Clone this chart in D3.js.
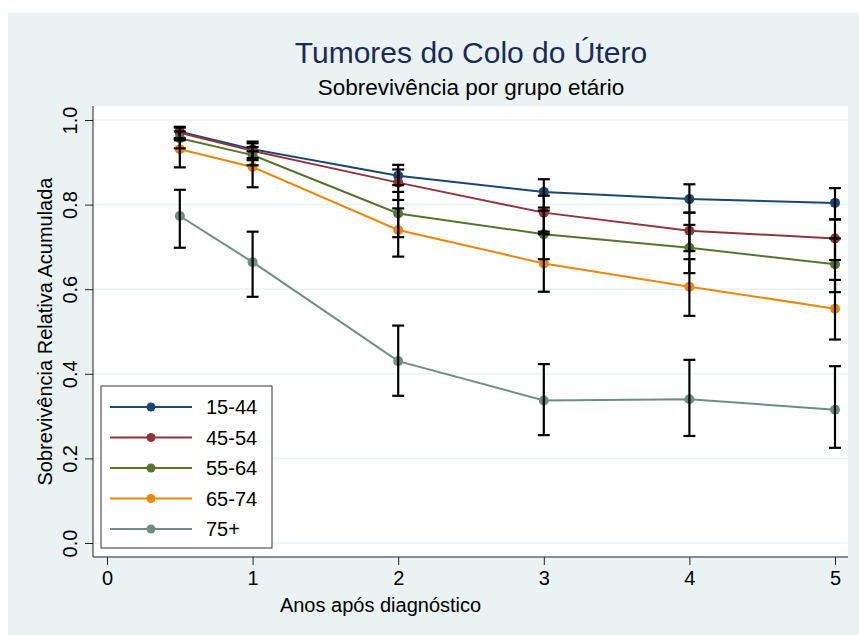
<!DOCTYPE html>
<html>
<head>
<meta charset="utf-8">
<script src="https://cdn.jsdelivr.net/npm/d3@7"></script>
<style>
  body { margin: 0; background: #fff; }
  text { font-family: "Liberation Sans", Arial, sans-serif; }
</style>
</head>
<body>
<div id="chart"></div>
<script>
// data
var years = [0.5, 1, 2, 3, 4, 5];
var groups = ["15-44", "45-54", "55-64", "65-74", "75+"];
var colors = ["#1a476f", "#90353b", "#55752f", "#e8870b", "#6e8e84"];

var surv1544 = [0.972, 0.931, 0.868, 0.830, 0.813, 0.804];
var lo1544   = [0.957, 0.910, 0.846, 0.793, 0.781, 0.765];
var hi1544   = [0.984, 0.949, 0.894, 0.860, 0.848, 0.839];

var surv4554 = [0.970, 0.927, 0.852, 0.781, 0.738, 0.720];
var lo4554   = [0.952, 0.905, 0.811, 0.736, 0.690, 0.669];
var hi4554   = [0.982, 0.945, 0.883, 0.821, 0.781, 0.765];

var surv5564 = [0.957, 0.917, 0.779, 0.730, 0.698, 0.659];
var lo5564   = [0.933, 0.893, 0.723, 0.671, 0.638, 0.593];
var hi5564   = [0.973, 0.936, 0.830, 0.786, 0.752, 0.720];

var surv6574 = [0.931, 0.889, 0.740, 0.661, 0.606, 0.554];
var lo6574   = [0.888, 0.841, 0.677, 0.594, 0.537, 0.481];
var hi6574   = [0.955, 0.926, 0.791, 0.730, 0.671, 0.622];

var surv75   = [0.773, 0.664, 0.430, 0.337, 0.340, 0.315];
var lo75     = [0.698, 0.582, 0.348, 0.255, 0.253, 0.225];
var hi75     = [0.835, 0.736, 0.514, 0.423, 0.433, 0.418];

var yTicks = [0, 0.2, 0.4, 0.6, 0.8, 1.0];
var xTicks = [0, 1, 2, 3, 4, 5];

var series = [
  {name: groups[0], s: surv1544, lo: lo1544, hi: hi1544},
  {name: groups[1], s: surv4554, lo: lo4554, hi: hi4554},
  {name: groups[2], s: surv5564, lo: lo5564, hi: hi5564},
  {name: groups[3], s: surv6574, lo: lo6574, hi: hi6574},
  {name: groups[4], s: surv75,   lo: lo75,   hi: hi75}
];

var svgWidth = 859;
var svgHeight = 635;

// plot region (white box)
var plot = {left: 93, right: 848, top: 106, bottom: 557};

var svg = d3.select("#chart")
  .append("svg")
  .attr("width", svgWidth)
  .attr("height", svgHeight);

// outer graph background
svg.append("rect")
  .attr("x", 8).attr("y", 13)
  .attr("width", svgWidth - 8).attr("height", svgHeight - 13)
  .attr("fill", "#eaf2f3");

svg.append("rect")
  .attr("x", plot.left).attr("y", plot.top)
  .attr("width", plot.right - plot.left).attr("height", plot.bottom - plot.top)
  .attr("fill", "#fff");

var x = d3.scaleLinear().domain([0, 5]).range([107, 835]);
var y = d3.scaleLinear().domain([0, 1]).range([543, 120]);

// gridlines
svg.append("g")
  .selectAll("line")
  .data(yTicks)
  .enter()
  .append("line")
  .attr("x1", plot.left).attr("x2", plot.right)
  .attr("y1", d => y(d)).attr("y2", d => y(d))
  .attr("stroke", "#eaf2f3")
  .attr("stroke-width", 1.5);

// axes
var leftAxis = d3.axisLeft(y).tickValues(yTicks).tickSize(8).tickFormat(d3.format(".1f"));
var bottomAxis = d3.axisBottom(x).tickValues(xTicks).tickSize(8).tickFormat(d3.format("d"));

var gy = svg.append("g")
  .attr("transform", `translate(${plot.left},0)`)
  .call(leftAxis);
gy.select(".domain").attr("d", `M0,${plot.top}V${plot.bottom}`);
gy.selectAll("text")
  .attr("transform", "translate(-16,0) rotate(-90)")
  .attr("x", 0).attr("y", 0).attr("dy", 0)
  .attr("text-anchor", "middle")
  .style("font-size", "20px");

var gx = svg.append("g")
  .attr("transform", `translate(0,${plot.bottom})`)
  .call(bottomAxis);
gx.select(".domain").attr("d", `M${plot.left},0H${plot.right}`);
gx.selectAll("text")
  .attr("y", 14)
  .style("font-size", "20px");

svg.selectAll(".domain, .tick line").attr("stroke", "#222");

// connected lines
var line = d3.line()
  .x((d, i) => x(years[i]))
  .y(d => y(d));

series.forEach(function(ser, k) {
  svg.append("path")
    .attr("d", line(ser.s))
    .attr("fill", "none")
    .attr("stroke", colors[k])
    .attr("stroke-width", 2);

  svg.append("g")
    .selectAll("circle")
    .data(ser.s)
    .enter()
    .append("circle")
    .attr("cx", (d, i) => x(years[i]))
    .attr("cy", d => y(d))
    .attr("r", 5)
    .attr("fill", colors[k]);
});

// error bars on top
series.forEach(function(ser) {
  var g = svg.append("g").attr("stroke", "#000").attr("stroke-width", 2.2);
  years.forEach(function(t, i) {
    var cx = x(t);
    g.append("line")
      .attr("x1", cx).attr("x2", cx)
      .attr("y1", y(ser.lo[i])).attr("y2", y(ser.hi[i]));
    g.append("line")
      .attr("x1", cx - 6).attr("x2", cx + 6)
      .attr("y1", y(ser.lo[i])).attr("y2", y(ser.lo[i]));
    g.append("line")
      .attr("x1", cx - 6).attr("x2", cx + 6)
      .attr("y1", y(ser.hi[i])).attr("y2", y(ser.hi[i]));
  });
});

// titles
svg.append("text")
  .attr("x", 471).attr("y", 63)
  .attr("text-anchor", "middle")
  .style("font-size", "30px")
  .attr("fill", "#1a2a5a")
  .text("Tumores do Colo do Útero");

svg.append("text")
  .attr("x", 471).attr("y", 95)
  .attr("text-anchor", "middle")
  .style("font-size", "22.5px")
  .attr("fill", "#000")
  .text("Sobrevivência por grupo etário");

svg.append("text")
  .attr("transform", `translate(52,${(plot.top + plot.bottom) / 2}) rotate(-90)`)
  .attr("text-anchor", "middle")
  .style("font-size", "20px")
  .text("Sobrevivência Relativa Acumulada");

svg.append("text")
  .attr("x", (plot.left + plot.right) / 2 - 90).attr("y", 612)
  .attr("text-anchor", "middle")
  .style("font-size", "20px")
  .text("Anos após diagnóstico");

// legend
var legend = svg.append("g");
legend.append("rect")
  .attr("x", 101).attr("y", 386)
  .attr("width", 171).attr("height", 162)
  .attr("fill", "#fff")
  .attr("stroke", "#333")
  .attr("stroke-width", 1);

var rowY = d3.scaleLinear().domain([0, 4]).range([407, 529]);
var item = legend.selectAll(".item")
  .data(groups)
  .enter()
  .append("g")
  .attr("transform", (d, i) => `translate(0,${rowY(i)})`);

item.append("line")
  .attr("x1", 110).attr("x2", 192)
  .attr("stroke", (d, i) => colors[i])
  .attr("stroke-width", 2);
item.append("circle")
  .attr("cx", 151).attr("r", 4.5)
  .attr("fill", (d, i) => colors[i]);
item.append("text")
  .attr("x", 206).attr("dy", "0.36em")
  .style("font-size", "20px")
  .text(d => d);
</script>
</body>
</html>
